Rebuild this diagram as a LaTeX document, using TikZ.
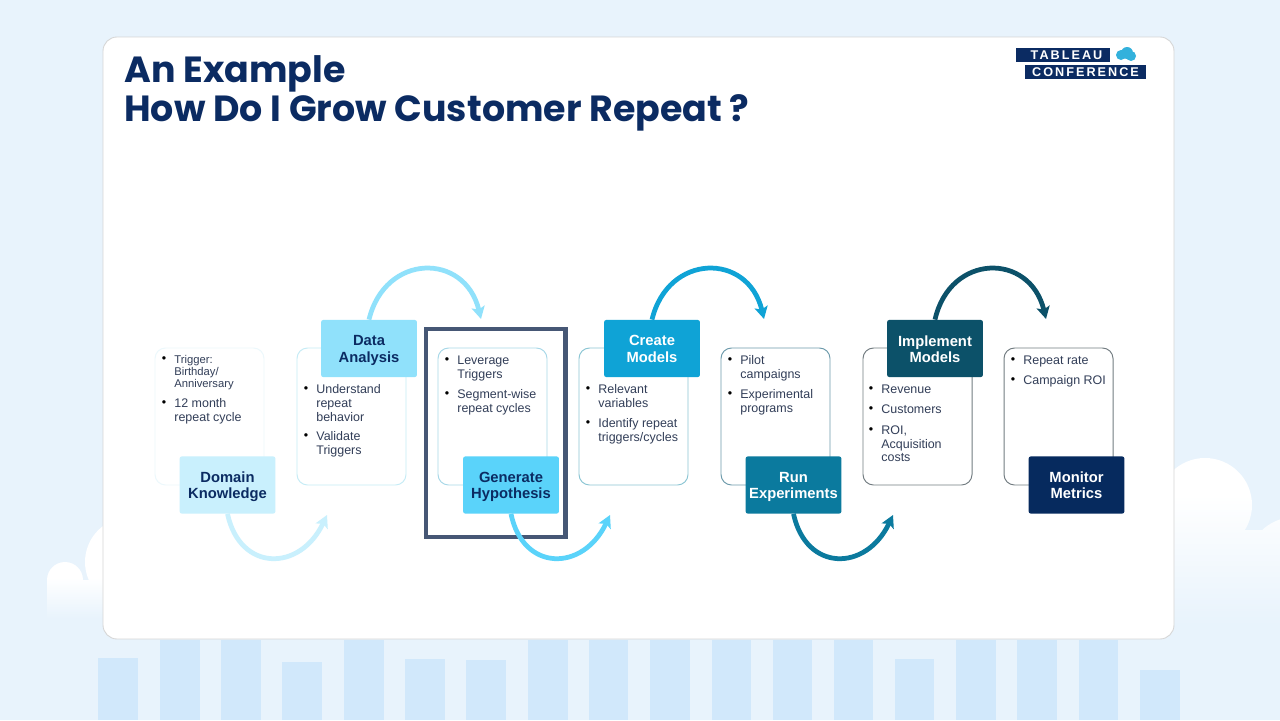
\documentclass[tikz,border=0pt]{standalone}
\usepackage{fontspec}
\usetikzlibrary{arrows.meta, positioning}
\setmainfont{Liberation Sans}
\newfontfamily\titlefont{Poppins}
\newfontfamily\logofont[LetterSpace=16]{Liberation Sans}
\definecolor{slidebg}{RGB}{232, 243, 252}
\definecolor{barblue}{RGB}{209, 232, 251}
\definecolor{titlenavy}{RGB}{11, 43, 98}
\definecolor{bodytext}{RGB}{50, 62, 88}
\definecolor{domainc}{RGB}{201, 240, 253}
\definecolor{datac}{RGB}{144, 225, 251}
\definecolor{hypoc}{RGB}{90, 211, 250}
\definecolor{createc}{RGB}{15, 163, 214}
\definecolor{runc}{RGB}{11, 122, 158}
\definecolor{implc}{RGB}{12, 81, 105}
\definecolor{monitorc}{RGB}{6, 42, 94}
\definecolor{framec}{RGB}{70, 87, 117}
\definecolor{panelA}{RGB}{236, 248, 252}
\definecolor{panelB}{RGB}{198, 236, 246}
\definecolor{panelC}{RGB}{168, 216, 232}
\definecolor{panelD}{RGB}{140, 198, 212}
\definecolor{panelE}{RGB}{110, 155, 172}
\definecolor{panelF}{RGB}{115, 125, 130}
\tikzset{
  stepbox/.style={minimum width=54.5pt, minimum height=32.5pt, inner sep=0pt, rounded corners=1.2pt,
    font=\fontsize{8.4}{9.2}\selectfont\bfseries},
  panelbox/.style={rounded corners=6pt, line width=0.55pt, fill=white},
  itemtext/.style={anchor=north west, inner sep=0pt, align=left, text=bodytext,
    font=\fontsize{7.1}{7.75}\selectfont},
  bulletmark/.style={anchor=north west, inner sep=0pt, text=black, font=\fontsize{7.1}{7.75}\selectfont},
  flowarrow/.style={line width=2.7pt, -{Stealth[length=7pt, width=7.5pt, inset=1.5pt]}}
}
\newcommand{\panelitem}[5][]{%
  \node[bulletmark] (#2b) at (#3-12.5,#4+3) {\textbullet};
  \node[itemtext, #1] (#2) at (#3,#4+1.5) {#5};
}
\newcommand{\steplabel}[2]{\raisebox{-1.1pt}[\height][\depth]{\parbox{54pt}{\centering #1\\#2\vphantom{y}}}}
\begin{document}
\begin{tikzpicture}[x=0.02cm, y=-0.02cm]
  \useasboundingbox (0,0) rectangle (1280,720);
  % Backdrop
  \fill[slidebg] (0,0) rectangle (1280,720);
  \foreach \x/\w/\y in {98/40/658, 160/40/640, 221/40/640, 282/40/662, 344/40/640, 405/40/659,
      466/40/660, 528/40/640, 589/39/640, 650/40/640, 712/39/640, 773/39/640, 834/39/640,
      895/39/659, 956/40/640, 1017/40/640, 1079/39/640, 1140/40/670}{
    \fill[barblue] (\x,\y) rectangle (\x+\w,720);
  }
  % Clouds
  \begin{scope}
    \clip (65,580) circle (18) (130,562) circle (45) (140,580) rectangle (47,640);
    \fill[white] (40,510) rectangle (140,578);
    \shade[top color=white, bottom color=slidebg] (40,578) rectangle (140,618);
  \end{scope}
  \begin{scope}
    \clip (1205,505) circle (47) (1295,565) circle (48) (1280,530) rectangle (1170,640);
    \fill[white] (1160,450) rectangle (1280,495);
    \shade[top color=white, bottom color=slidebg] (1160,495) rectangle (1280,625);
  \end{scope}
  % Card
  \fill[white, draw=black!16, line width=0.5pt, rounded corners=8pt] (103,37) rectangle (1174,639);
  \node[anchor=west, inner sep=0pt, text=titlenavy, font=\titlefont\bfseries\fontsize{20.7}{22}\selectfont] (titleA) at (124,74) {An Example};
  \node[anchor=west, inner sep=0pt, text=titlenavy, font=\titlefont\bfseries\fontsize{20.7}{22}\selectfont] (titleB) at (124,113) {How Do I Grow Customer Repeat ?};
  % Logo
  \node[fill=titlenavy, text=white, minimum width=53.5pt, minimum height=8pt, inner sep=0pt, font=\logofont\bfseries\fontsize{7.2}{7}\selectfont] (logoA) at (1063,55) {\hspace{4pt}TABLEAU};
  \node[fill=titlenavy, text=white, minimum width=69pt, minimum height=8pt, inner sep=0pt, font=\logofont\bfseries\fontsize{7.2}{7}\selectfont] (logoB) at (1085.5,72) {CONFERENCE};
  \fill[createc!85!white] (1121,55) circle (5) (1127,53) circle (6) (1131,56) circle (5);
  % Highlight frame
  \draw[framec, line width=2.4pt] (426,329) rectangle (565.5,537);
  % Panels
  \foreach \x/\c in {155/panelA, 297/panelB, 438/panelC, 579/panelD, 721/panelE, 863/panelF, 1004/panelF}{
    \draw[panelbox, draw=\c] (\x,348) rectangle (\x+109,485);
  }
  % Arrows
  \coordinate (dkEnd) at (327,515);
  \coordinate (daEnd) at (481,319);
  \coordinate (ghEnd) at (610,515);
  \coordinate (cmEnd) at (764,319);
  \coordinate (reEnd) at (893,515);
  \coordinate (imEnd) at (1046,319);
  % Step boxes
  \node[stepbox, fill=domainc, text=titlenavy] (dk) at (227.5,485) {\steplabel{Domain}{Knowledge}};
  \node[stepbox, fill=datac, text=titlenavy] (da) at (369,348.5) {\steplabel{Data}{Analysis}};
  \node[stepbox, fill=hypoc, text=titlenavy] (gh) at (511,485) {\steplabel{Generate}{Hypothesis}};
  \node[stepbox, fill=createc, text=white] (cm) at (652,348.5) {\steplabel{Create}{Models}};
  \node[stepbox, fill=runc, text=white] (re) at (793.5,485) {\steplabel{Run}{Experiments}};
  \node[stepbox, fill=implc, text=white] (im) at (935,348.5) {\steplabel{Implement}{Models}};
  \node[stepbox, fill=monitorc, text=white] (mm) at (1076.5,485) {\steplabel{Monitor}{Metrics}};
  \draw[flowarrow, domainc] (dk.south) .. controls (240,572) and (300,572) .. (dkEnd);
  \draw[flowarrow, datac] (da.north) .. controls (385,253) and (465,252) .. (daEnd);
  \draw[flowarrow, hypoc] (gh.south) .. controls (523,572) and (583,572) .. (ghEnd);
  \draw[flowarrow, createc] (cm.north) .. controls (668,253) and (748,252) .. (cmEnd);
  \draw[flowarrow, runc] (re.south) .. controls (806,572) and (866,572) .. (reEnd);
  \draw[flowarrow, implc] (im.north) .. controls (950,253) and (1030,252) .. (imEnd);
  % Panel texts
  \panelitem[font=\fontsize{6.4}{7}\selectfont]{dkA}{174}{353}{Trigger:\\Birthday/\\Anniversary}
  \panelitem{dkB}{174}{397}{12 month\\repeat cycle}
  \panelitem{daA}{316}{383}{Understand\\repeat\\behavior}
  \panelitem{daB}{316}{430}{Validate\\Triggers}
  \panelitem{ghA}{457}{354}{Leverage\\Triggers}
  \panelitem{ghB}{457}{388}{Segment-wise\\repeat cycles}
  \panelitem{cmA}{598}{383}{Relevant\\variables}
  \panelitem{cmB}{598}{417}{Identify repeat\\triggers/cycles}
  \panelitem{reA}{740}{354}{Pilot\\campaigns}
  \panelitem{reB}{740}{388}{Experimental\\programs}
  \panelitem{imA}{881}{383}{Revenue}
  \panelitem{imB}{881}{403}{Customers}
  \panelitem{imC}{881}{424}{ROI,\\Acquisition\\costs}
  \panelitem{mmA}{1023}{354}{Repeat rate}
  \panelitem{mmB}{1023}{374}{Campaign ROI}
\end{tikzpicture}
\end{document}
